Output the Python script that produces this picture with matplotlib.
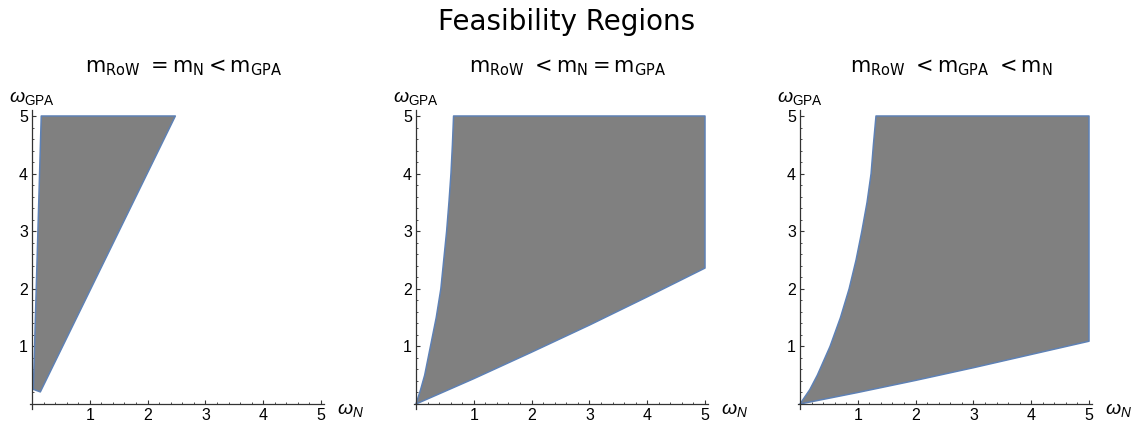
import numpy as np
import matplotlib
matplotlib.use("Agg")
import matplotlib.pyplot as plt

plt.rcParams['mathtext.fontset'] = 'custom'
plt.rcParams['mathtext.rm'] = 'Liberation Sans'
plt.rcParams['mathtext.it'] = 'Liberation Sans:italic'

# boundary of each feasibility region (omega_N, omega_GPA), traced around the polygon
p1_x = [0.023, 0.16, 2.48, 0.144]
p1_y = [0.255, 5.0, 5.0, 0.21]

p2_x = [0.0, 0.08, 0.15, 0.25, 0.35, 0.43, 0.48, 0.53, 0.57, 0.605, 0.63, 0.65,
        5.0, 5.0, 4.0, 3.0, 2.0, 1.0]
p2_y = [0.0, 0.25, 0.5, 1.0, 1.5, 2.0, 2.5, 3.0, 3.5, 4.0, 4.5, 5.0,
        5.0, 2.36, 1.86, 1.37, 0.90, 0.44]

p3_x = [0.0, 0.17, 0.30, 0.52, 0.70, 0.85, 0.97, 1.07, 1.16, 1.23, 1.27, 1.315,
        5.0, 5.0, 4.0, 3.0, 2.0, 1.0]
p3_y = [0.0, 0.25, 0.5, 1.0, 1.5, 2.0, 2.5, 3.0, 3.5, 4.0, 4.5, 5.0,
        5.0, 1.09, 0.86, 0.63, 0.41, 0.20]

titles = [r'$\mathrm{m}_{\mathrm{RoW}}\ = \mathrm{m}_{\mathrm{N}} < \mathrm{m}_{\mathrm{GPA}}$',
          r'$\mathrm{m}_{\mathrm{RoW}}\ < \mathrm{m}_{\mathrm{N}} = \mathrm{m}_{\mathrm{GPA}}$',
          r'$\mathrm{m}_{\mathrm{RoW}}\ < \mathrm{m}_{\mathrm{GPA}}\ < \mathrm{m}_{\mathrm{N}}$']
regions = [(p1_x, p1_y), (p2_x, p2_y), (p3_x, p3_y)]
major = [1, 2, 3, 4, 5]

W, H = 1134, 429
fig = plt.figure(figsize=(W / 100, H / 100), dpi=100)

unit_x, unit_y = 57.8, 57.6
origins = [32, 416, 800]
y0 = 404
xmin, xmax = -0.03, 5.05
ymin, ymax = -0.08, 5.1

fill_col = '#808080'
edge_col = '#5E81B5'
axis_col = '#333333'

for i in range(3):
    left = origins[i] + xmin * unit_x
    bottom = (H - y0) + ymin * unit_y
    ax = fig.add_axes([left / W, bottom / H, (xmax - xmin) * unit_x / W,
                       (ymax - ymin) * unit_y / H])
    ax.set_xlim(xmin, xmax)
    ax.set_ylim(ymin, ymax)
    ax.patch.set_visible(False)

    xs, ys = regions[i]
    ax.fill(xs, ys, facecolor=fill_col, edgecolor=edge_col, linewidth=1.1,
            joinstyle='round', zorder=2)

    for s in ['top', 'right']:
        ax.spines[s].set_visible(False)
    ax.spines['left'].set_position(('data', 0))
    ax.spines['bottom'].set_position(('data', 0))
    for s in ['left', 'bottom']:
        ax.spines[s].set_color(axis_col)
        ax.spines[s].set_linewidth(0.9)
        ax.spines[s].set_zorder(3)

    minor = [v for v in np.arange(0.2, 5.01, 0.2) if abs(v - round(v)) > 1e-6]
    ax.set_xticks(major)
    ax.set_yticks(major)
    ax.set_xticks(minor, minor=True)
    ax.set_yticks(minor, minor=True)
    ax.set_xticklabels([str(v) for v in major])
    ax.set_yticklabels([str(v) for v in major])
    ax.tick_params(which='major', direction='in', length=3.2, width=0.8, color=axis_col,
                   labelsize=11.5, pad=3)
    ax.tick_params(which='minor', direction='in', length=1.7, width=0.6, color=axis_col)
    for lab in ax.get_xticklabels() + ax.get_yticklabels():
        lab.set_fontfamily('Liberation Sans')

    ax.text(-0.4, 5.24, r'$\omega_{\mathrm{GPA}}$', fontsize=14, ha='left',
            va='baseline', clip_on=False)
    ax.text(5.28, -0.17, r'$\omega_{N}$', fontsize=14, ha='left',
            va='baseline', clip_on=False)

    tx = (origins[i] + 2.62 * unit_x) / W
    fig.text(tx, (H - 72) / H, titles[i], fontsize=15, ha='center', va='baseline',
             math_fontfamily='dejavusans')

fig.text(0.5, (H - 30) / H, 'Feasibility Regions', fontsize=20, ha='center',
         va='baseline', family='DejaVu Sans')

fig.savefig('out.png', dpi=100)
